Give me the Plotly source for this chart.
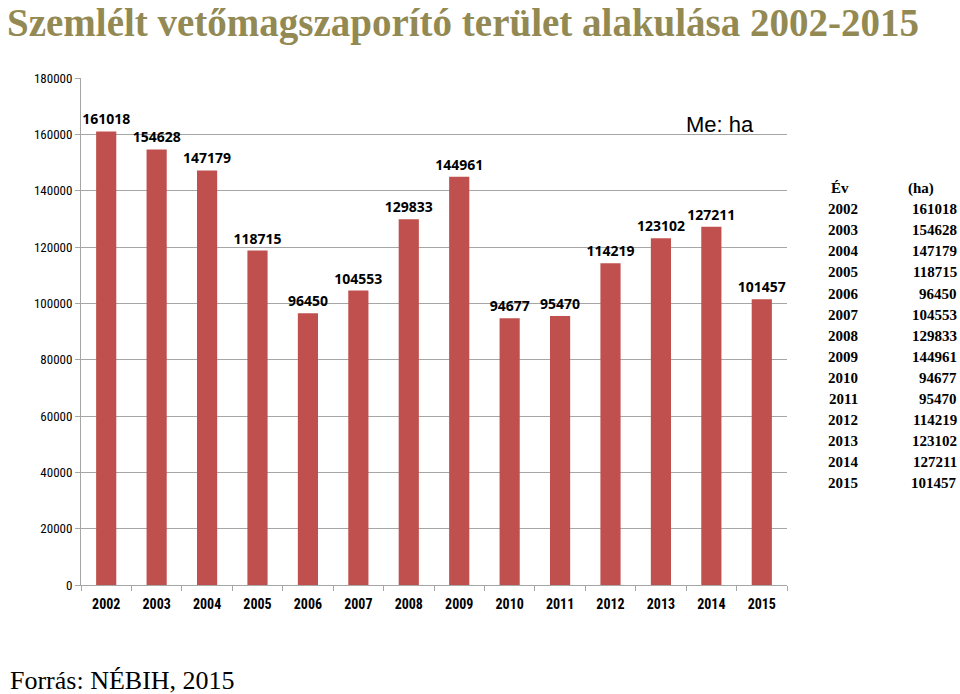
import plotly.graph_objects as go

years = ["2002", "2003", "2004", "2005", "2006", "2007", "2008", "2009",
         "2010", "2011", "2012", "2013", "2014", "2015"]
area_ha = [161018, 154628, 147179, 118715, 96450, 104553, 129833, 144961,
           94677, 95470, 114219, 123102, 127211, 101457]
y_ticks = [0, 20000, 40000, 60000, 80000, 100000, 120000, 140000, 160000, 180000]

title_text = "Szemlélt vetőmagszaporító terület alakulása 2002-2015"
unit_text = "Me: ha"
source_text = "Forrás: NÉBIH, 2015"
table_head = ["Év", "(ha)"]

narrow = "Liberation Sans Narrow, Arial Narrow, Roboto Condensed, Liberation Sans, sans-serif"
serif = "Liberation Serif, Times New Roman, serif"

fig = go.Figure()
fig.add_trace(go.Bar(
    x=years, y=area_ha,
    marker=dict(color="#C0504D", line=dict(width=0)),
    text=[str(v) for v in area_ha],
    textposition="outside",
    constraintext="none",
    textfont=dict(family="Open Sans, Liberation Sans, sans-serif", size=14, color="#000000", weight="bold"),
    cliponaxis=False,
))

annotations = []
# Title
annotations.append(dict(
    xref="paper", yref="paper", x=-76/706, y=1 + 55/507, xanchor="left", yanchor="middle",
    text="<b>" + title_text + "</b>", showarrow=False,
    font=dict(family=serif, size=39, color="#938953"),
))
# Unit
annotations.append(dict(
    xref="paper", yref="paper", x=(756-81)/706, y=(585-124)/507, xanchor="right", yanchor="middle",
    text=unit_text, showarrow=False,
    font=dict(family="Liberation Sans, Arial, sans-serif", size=22, color="#000000"),
))
# Source
annotations.append(dict(
    xref="paper", yref="paper", x=(8-81)/706, y=(585-680)/507, xanchor="left", yanchor="middle",
    text=source_text, showarrow=False,
    font=dict(family=serif, size=26, color="#000000"),
))
# Data table on the right
row_h = 21.1
head_y = 188
annotations.append(dict(
    xref="paper", yref="paper", x=(840-81)/706, y=(585-head_y)/507, xanchor="center", yanchor="middle",
    text="<b>" + table_head[0] + "</b>", showarrow=False,
    font=dict(family=serif, size=15, color="#000000"),
))
annotations.append(dict(
    xref="paper", yref="paper", x=(936-81)/706, y=(585-head_y)/507, xanchor="right", yanchor="middle",
    text="<b>" + table_head[1] + "</b>", showarrow=False,
    font=dict(family=serif, size=15, color="#000000"),
))
for i, (yr, v) in enumerate(zip(years, area_ha)):
    ypix = head_y + row_h * (i + 1)
    annotations.append(dict(
        xref="paper", yref="paper", x=(843-81)/706, y=(585-ypix)/507, xanchor="center", yanchor="middle",
        text="<b>" + yr + "</b>", showarrow=False,
        font=dict(family=serif, size=15, color="#000000"),
    ))
    annotations.append(dict(
        xref="paper", yref="paper", x=(959-81)/706, y=(585-ypix)/507, xanchor="right", yanchor="middle",
        text="<b>" + str(v) + "</b>", showarrow=False,
        font=dict(family=serif, size=15, color="#000000"),
    ))

fig.update_layout(
    width=960, height=694,
    margin=dict(l=81, r=173, t=78, b=109),
    paper_bgcolor="#FFFFFF", plot_bgcolor="#FFFFFF",
    bargap=0.6,
    showlegend=False,
    annotations=annotations,
    xaxis=dict(
        type="category",
        showgrid=False,
        showline=True, linecolor="#A6A6A6", linewidth=1,
        ticks="outside", tickson="boundaries", ticklen=5, tickcolor="#A6A6A6",
        ticklabelstandoff=6,
        tickfont=dict(family=narrow, size=14, color="#000000", weight="bold"),
    ),
    yaxis=dict(
        range=[0, 180000],
        tickvals=y_ticks,
        ticktext=[str(t) for t in y_ticks],
        showgrid=True, gridcolor="#A6A6A6", gridwidth=1,
        showline=True, linecolor="#A6A6A6", linewidth=1,
        ticks="outside", ticklen=5, tickcolor="#A6A6A6",
        tickfont=dict(family=narrow, size=13, color="#000000"),
        zeroline=False,
    ),
)

fig.write_html("out.html")
